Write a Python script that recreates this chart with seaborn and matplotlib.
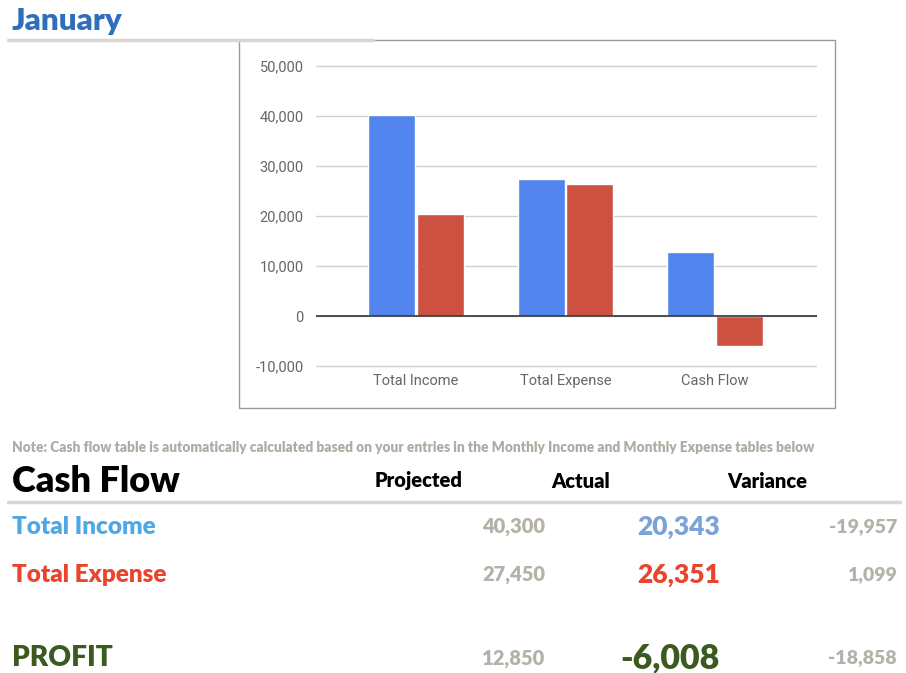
import matplotlib
matplotlib.use("Agg")
import matplotlib.pyplot as plt
import matplotlib.ticker as mticker
import seaborn as sns
import pandas as pd

# --- DATA ---
categories = ["Total Income", "Total Expense", "Cash Flow"]
projected = [40300, 27450, 12850]
actual = [20343, 26351, -6008]
variance = [-19957, 1099, -18858]
row_labels = ["Total Income", "Total Expense", "PROFIT"]
col_headers = ["Projected", "Actual", "Variance"]
y_ticks = [-10000, 0, 10000, 20000, 30000, 40000, 50000]

W, H = 906, 673
BLUE = "#5184EC"
RED = "#CC5140"
NUM_GRAY = "#B5B1A8"
HEAVY = 800

sns.set_theme(style="white")
plt.rcParams["font.family"] = ["Lato", "DejaVu Sans"]

fig = plt.figure(figsize=(W / 100, H / 100), dpi=100)


def fx(px):
    return px / W


def fy(py):
    return 1 - py / H


# chart frame
fig.patches.append(plt.Rectangle((fx(239), fy(408)), fx(835) - fx(239), fy(40) - fy(408),
                                 transform=fig.transFigure, fill=False, edgecolor="#9a9a9a", lw=1))

ax = fig.add_axes([fx(316), fy(368.5), fx(817) - fx(316), fy(63.5) - fy(368.5)])
df = pd.DataFrame({
    "category": categories * 2,
    "series": ["Projected"] * 3 + ["Actual"] * 3,
    "value": projected + actual,
})
sns.barplot(data=df, x="category", y="value", hue="series", palette=[BLUE, RED],
            width=0.65, gap=0.03, legend=False, ax=ax, zorder=3, saturation=1)
ax.set_ylim(-10500, 50500)
ax.set_xlim(-0.667, 2.68)
ax.set_yticks(y_ticks)
ax.yaxis.set_major_formatter(mticker.FuncFormatter(lambda v, p: f"{v:,.0f}"))
ax.grid(axis="y", color="#d0d0d0", lw=1, zorder=0)
ax.axhline(0, color="#333333", lw=1.2, zorder=4)
for s in ax.spines.values():
    s.set_visible(False)
ax.set_xlabel("")
ax.set_ylabel("")
ax.tick_params(axis="both", length=0, colors="#666666", labelsize=10.5, pad=4)
for lab in ax.get_xticklabels() + ax.get_yticklabels():
    lab.set_family(["Roboto", "DejaVu Sans"])
ax.tick_params(axis="y", pad=9)
ax.set_facecolor("none")

# header
fig.text(fx(12), fy(21), "January", color="#2F6EBA", fontsize=22.5, fontweight=HEAVY,
         va="center", ha="left")
fig.add_artist(plt.Line2D([fx(8), fx(373)], [fy(40), fy(40)], color="#D9D6D0", lw=2.5))

fig.text(fx(12), fy(447), "Note: Cash flow table is automatically calculated based on your entries in the "
         "Monthly Income and Monthly Expense tables below", color="#B0ACA3", fontsize=9.9,
         fontweight=HEAVY, va="center", ha="left")

fig.text(fx(12), fy(482), "Cash Flow", color="black", fontsize=26, fontweight=HEAVY,
         va="center", ha="left")
for x, h in zip([419, 581, 767], col_headers):
    fig.text(fx(x), fy(481), h, color="black", fontsize=14.5, fontweight=HEAVY, va="center", ha="center")
fig.add_artist(plt.Line2D([fx(8), fx(900)], [fy(502), fy(502)], color="#D9D6D0", lw=2.5))

row_y = [527, 575, 658]
row_colors = ["#4FA8E6", "#E8452C", "#3A5A1E"]
actual_colors = ["#7BA3D8", "#E8452C", "#3A5A1E"]
row_sizes = [17.5, 17.5, 20.2]
actual_sizes = [19, 19, 24.5]
for i in range(3):
    y = fy(row_y[i])
    fig.text(fx(12), y, row_labels[i], color=row_colors[i], fontsize=row_sizes[i],
             fontweight=HEAVY, va="center", ha="left")
    fig.text(fx(545), y, f"{projected[i]:,}", color=NUM_GRAY, fontsize=14.5,
             fontweight=HEAVY, va="center", ha="right")
    fig.text(fx(720), y, f"{actual[i]:,}", color=actual_colors[i], fontsize=actual_sizes[i],
             fontweight=HEAVY, va="center", ha="right")
    fig.text(fx(897), y, f"{variance[i]:,}", color=NUM_GRAY, fontsize=14,
             fontweight=HEAVY, va="center", ha="right")

fig.savefig("out.png", dpi=100)
